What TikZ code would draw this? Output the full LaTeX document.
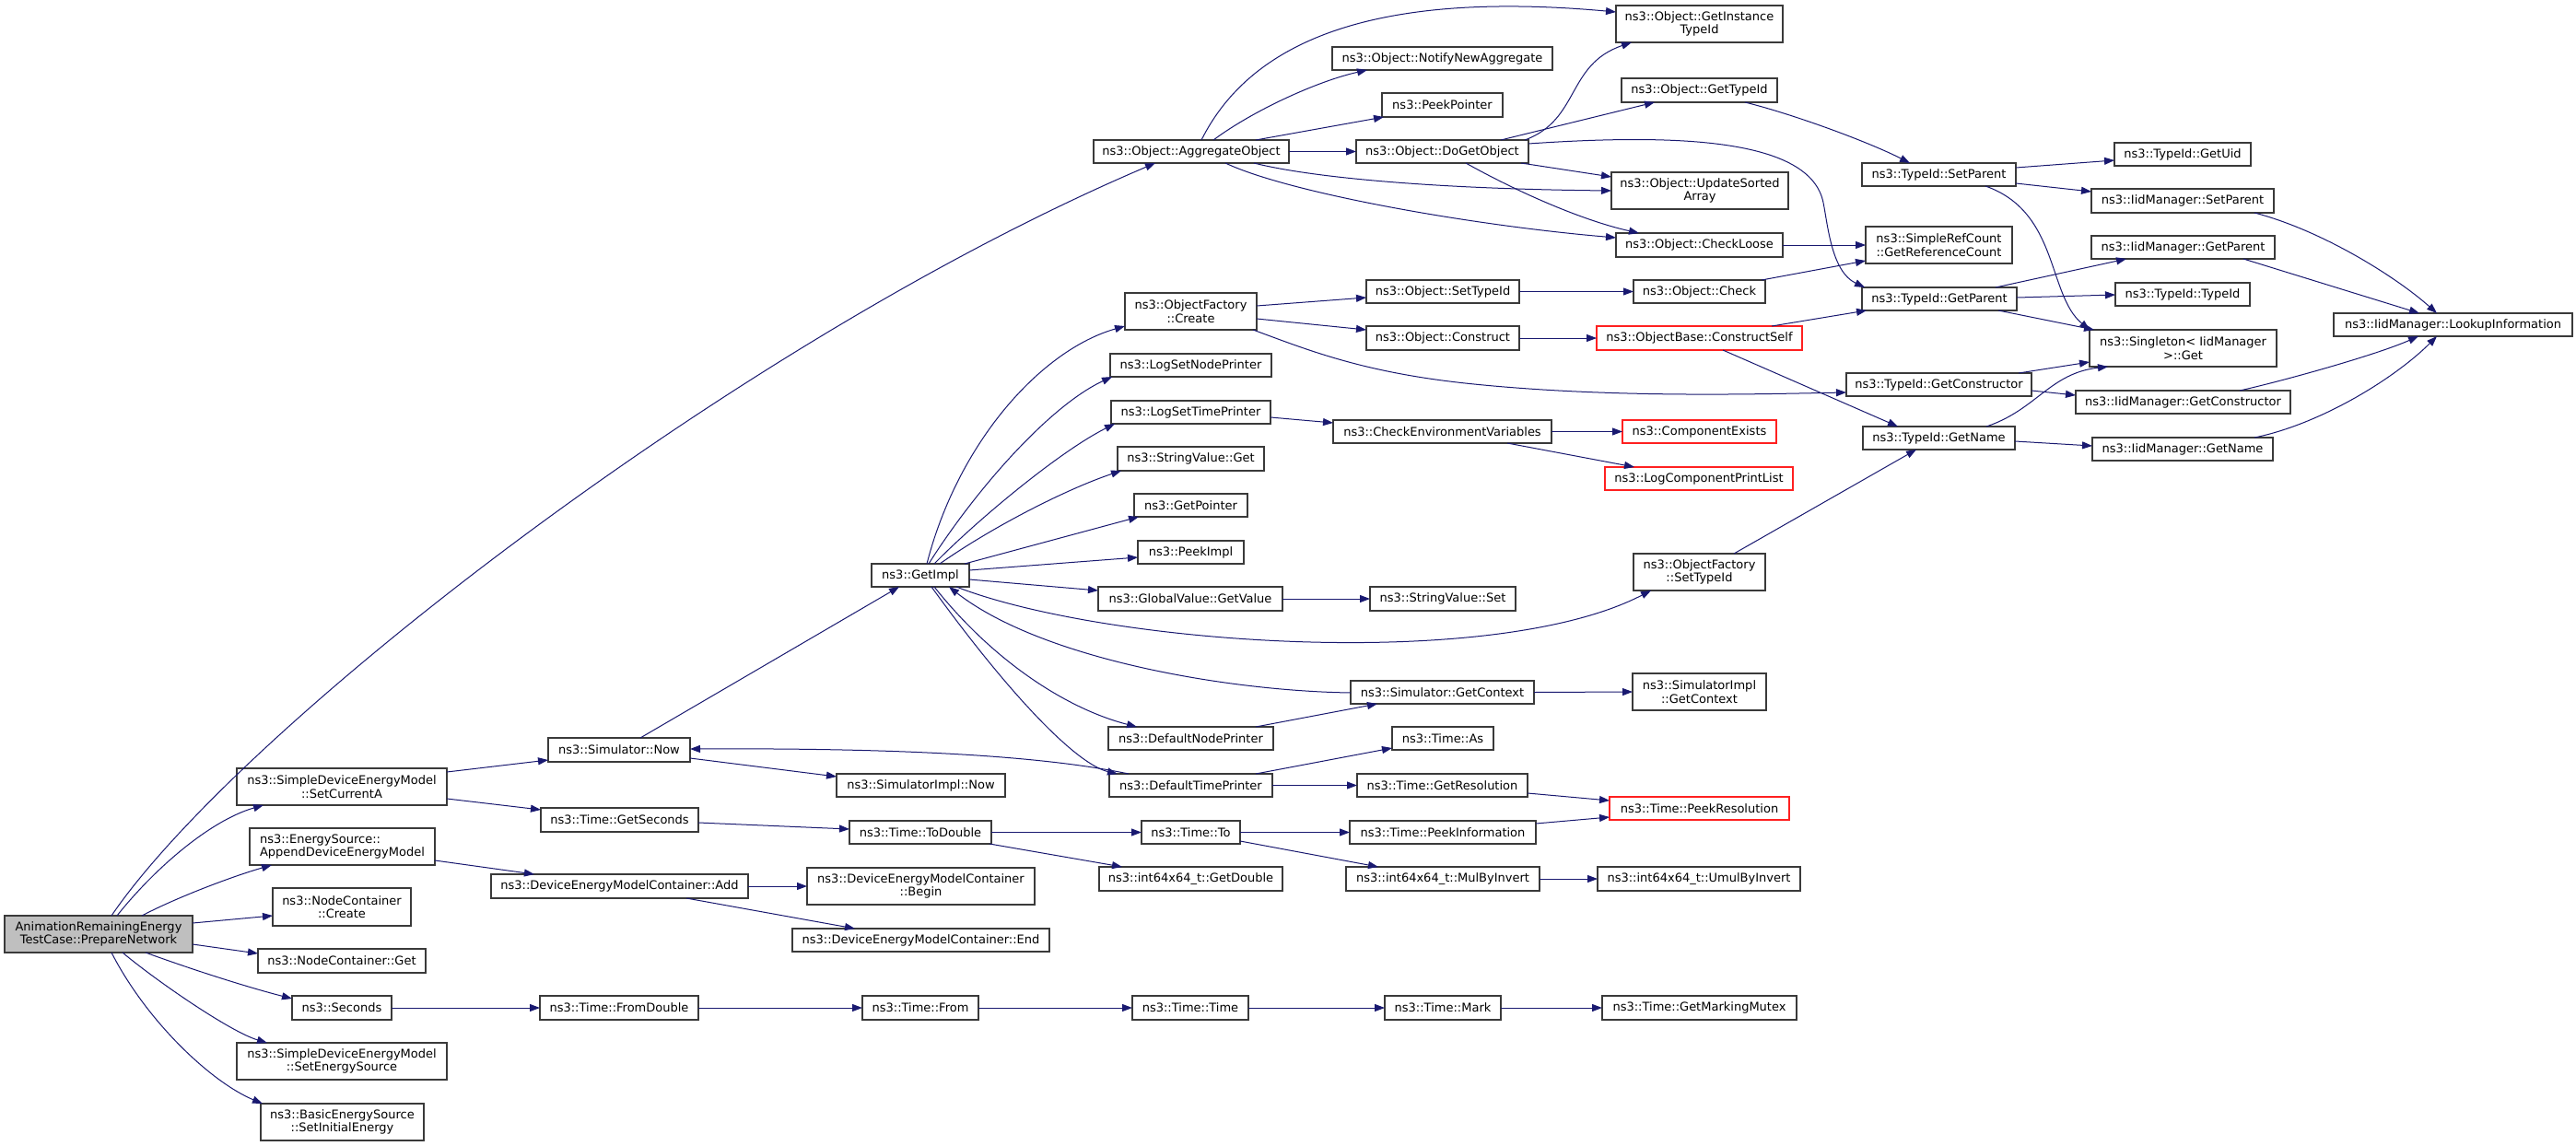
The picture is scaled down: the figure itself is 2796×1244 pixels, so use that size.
\documentclass[tikz,border=0pt]{standalone}
\usepackage{fontspec}
\setmainfont{DejaVu Sans}
\usetikzlibrary{arrows.meta}
\definecolor{edgecol}{HTML}{191970}
\definecolor{rootfill}{HTML}{BFBFBF}
\definecolor{boxline}{HTML}{3A3A3A}
\definecolor{trunc}{HTML}{FF2020}
\tikzset{
  box/.style={draw=boxline, line width=1.2pt, fill=white, inner sep=0pt, outer sep=0pt,
    align=center, font=\fontsize{13}{14.7}\selectfont},
  rootbox/.style={fill=rootfill},
  redbox/.style={draw=trunc},
  edge/.style={draw=edgecol, line width=1pt, -{Triangle[length=11pt,width=8pt]}, fill=none}
}
\newcommand\mybox[7][]{\node[box,#1,minimum width={#5-#3},minimum height={#6-#4}] (#2) at ({(#3+#5)/2},{(#4+#6)/2}) {#7};}
\begin{document}
\begin{tikzpicture}[x=1pt,y=-1pt]
\fill[white] (0,0) rectangle (2796,1244);
\useasboundingbox (0,0) rectangle (2796,1244);
% ---------- nodes ----------
\mybox[rootbox]{root}{5}{994}{209}{1034}{AnimationRemainingEnergy\\TestCase::PrepareNetwork}
\mybox{setcur}{257}{834}{485}{874}{ns3::SimpleDeviceEnergyModel\\::SetCurrentA}
\mybox[align=left]{append}{271}{899}{472}{939}{ns3::EnergySource::\\AppendDeviceEnergyModel}
\mybox{nccreate}{296}{964}{446}{1005}{ns3::NodeContainer\\::Create}
\mybox{ncget}{280}{1030}{462}{1056}{ns3::NodeContainer::Get}
\mybox{seconds}{317}{1081}{425}{1107}{ns3::Seconds}
\mybox{setes}{257}{1132}{485}{1172}{ns3::SimpleDeviceEnergyModel\\::SetEnergySource}
\mybox{setie}{283}{1198}{460}{1238}{ns3::BasicEnergySource\\::SetInitialEnergy}
\mybox{simnow}{595}{801}{749}{827}{ns3::Simulator::Now}
\mybox{getsec}{587}{877}{758}{903}{ns3::Time::GetSeconds}
\mybox{demcadd}{533}{949}{812}{975}{ns3::DeviceEnergyModelContainer::Add}
\mybox{fromdouble}{586}{1081}{758}{1107}{ns3::Time::FromDouble}
\mybox{aggobj}{1187}{152}{1399}{177}{ns3::Object::AggregateObject}
\mybox{getimpl}{946}{612}{1052}{637}{ns3::GetImpl}
\mybox{simimplnow}{908}{840}{1091}{865}{ns3::SimulatorImpl::Now}
\mybox{todouble}{922}{891}{1076}{916}{ns3::Time::ToDouble}
\mybox{demcbegin}{876}{942}{1123}{982}{ns3::DeviceEnergyModelContainer\\::Begin}
\mybox{demcend}{860}{1008}{1139}{1033}{ns3::DeviceEnergyModelContainer::End}
\mybox{timefrom}{936}{1081}{1062}{1107}{ns3::Time::From}
\mybox{ofcreate}{1221}{318}{1364}{358}{ns3::ObjectFactory\\::Create}
\mybox{lsnp}{1205}{384}{1380}{409}{ns3::LogSetNodePrinter}
\mybox{lstp}{1206}{435}{1379}{460}{ns3::LogSetTimePrinter}
\mybox{svget}{1213}{485}{1372}{511}{ns3::StringValue::Get}
\mybox{getptr}{1231}{536}{1354}{561}{ns3::GetPointer}
\mybox{peekimpl}{1235}{587}{1350}{612}{ns3::PeekImpl}
\mybox{gvgetvalue}{1192}{637}{1392}{663}{ns3::GlobalValue::GetValue}
\mybox{dnp}{1203}{789}{1382}{814}{ns3::DefaultNodePrinter}
\mybox{dtp}{1204}{840}{1381}{865}{ns3::DefaultTimePrinter}
\mybox{timeto}{1239}{891}{1346}{916}{ns3::Time::To}
\mybox{getdouble}{1193}{941}{1392}{967}{ns3::int64x64\_t::GetDouble}
\mybox{timetime}{1229}{1081}{1355}{1107}{ns3::Time::Time}
\mybox{notify}{1446}{51}{1685}{76}{ns3::Object::NotifyNewAggregate}
\mybox{peekptr}{1500}{101}{1631}{127}{ns3::PeekPointer}
\mybox{dogetobj}{1472}{152}{1659}{177}{ns3::Object::DoGetObject}
\mybox{objsettid}{1483}{304}{1649}{329}{ns3::Object::SetTypeId}
\mybox{objconstruct}{1483}{354}{1649}{380}{ns3::Object::Construct}
\mybox{checkenv}{1447}{456}{1684}{481}{ns3::CheckEnvironmentVariables}
\mybox{svset}{1487}{637}{1645}{663}{ns3::StringValue::Set}
\mybox{simgetctx}{1466}{739}{1665}{764}{ns3::Simulator::GetContext}
\mybox{timeas}{1511}{789}{1621}{814}{ns3::Time::As}
\mybox{getres}{1473}{840}{1658}{865}{ns3::Time::GetResolution}
\mybox{peekinfo}{1465}{891}{1667}{916}{ns3::Time::PeekInformation}
\mybox{mulbyinv}{1461}{941}{1671}{967}{ns3::int64x64\_t::MulByInvert}
\mybox{timemark}{1503}{1081}{1629}{1107}{ns3::Time::Mark}
\mybox{getinst}{1754}{6}{1935}{46}{ns3::Object::GetInstance\\TypeId}
\mybox{gettypeid}{1760}{85}{1929}{111}{ns3::Object::GetTypeId}
\mybox{updsorted}{1749}{187}{1941}{227}{ns3::Object::UpdateSorted\\Array}
\mybox{checkloose}{1754}{253}{1935}{279}{ns3::Object::CheckLoose}
\mybox{objcheck}{1773}{304}{1916}{329}{ns3::Object::Check}
\mybox[redbox]{constructself}{1733}{354}{1956}{380}{ns3::ObjectBase::ConstructSelf}
\mybox[redbox]{compexists}{1761}{456}{1928}{481}{ns3::ComponentExists}
\mybox[redbox]{logcpl}{1742}{507}{1946}{532}{ns3::LogComponentPrintList}
\mybox{ofsettid}{1773}{601}{1916}{641}{ns3::ObjectFactory\\::SetTypeId}
\mybox{simimplgetctx}{1772}{731}{1917}{771}{ns3::SimulatorImpl\\::GetContext}
\mybox[redbox]{peekres}{1747}{865}{1942}{890}{ns3::Time::PeekResolution}
\mybox{umulbyinv}{1734}{941}{1954}{967}{ns3::int64x64\_t::UmulByInvert}
\mybox{markmutex}{1739}{1081}{1950}{1107}{ns3::Time::GetMarkingMutex}
\mybox{setparent}{2021}{177}{2188}{202}{ns3::TypeId::SetParent}
\mybox{refcount}{2025}{246}{2184}{286}{ns3::SimpleRefCount\\::GetReferenceCount}
\mybox{getparent}{2021}{312}{2189}{337}{ns3::TypeId::GetParent}
\mybox{getctor}{2004}{405}{2205}{430}{ns3::TypeId::GetConstructor}
\mybox{getname}{2022}{463}{2187}{488}{ns3::TypeId::GetName}
\mybox{getuid}{2295}{155}{2443}{180}{ns3::TypeId::GetUid}
\mybox{iidsetparent}{2270}{205}{2468}{231}{ns3::IidManager::SetParent}
\mybox{iidgetparent}{2270}{256}{2469}{281}{ns3::IidManager::GetParent}
\mybox{typeidtypeid}{2296}{307}{2442}{332}{ns3::TypeId::TypeId}
\mybox{singleton}{2268}{358}{2471}{398}{ns3::Singleton< IidManager\\>::Get}
\mybox{iidgetctor}{2253}{424}{2486}{449}{ns3::IidManager::GetConstructor}
\mybox{iidgetname}{2271}{475}{2467}{500}{ns3::IidManager::GetName}
\mybox{lookup}{2533}{340}{2792}{365}{ns3::IidManager::LookupInformation}
% ---------- edges ----------
% root
\draw[edge] (root.north -| 121,0) .. controls (260,790) and (800,370) .. (aggobj.south -| 1254,0);
\draw[edge] (root.north -| 127,0) .. controls (170,940) and (230,890) .. (setcur.south -| 286,0);
\draw[edge] (root.north -| 154,0) .. controls (190,975) and (250,952) .. (append.south -| 295,0);
\draw[edge] (root.east |- 0,1002) -- (nccreate.west |- 0,994);
\draw[edge] (root.east |- 0,1025) -- (ncget.west |- 0,1035);
\draw[edge] (root.south -| 158,0) .. controls (210,1053) and (270,1072) .. (seconds.west |- 0,1084);
\draw[edge] (root.south -| 133,0) .. controls (170,1065) and (250,1120) .. (setes.north -| 290,0);
\draw[edge] (root.south -| 121,0) .. controls (160,1110) and (230,1175) .. (setie.north -| 285,0);
% second column
\draw[edge] (setcur.east |- 0,838) -- (simnow.west |- 0,825);
\draw[edge] (setcur.east |- 0,867) -- (getsec.west |- 0,879);
\draw[edge] (append.east |- 0,934) -- (demcadd.north -| 580,0);
\draw[edge] (seconds.east) -- (fromdouble.west);
\draw[edge] (simnow.north -| 695,0) -- (getimpl.south -| 976,0);
\draw[edge] (simnow.east |- 0,823) -- (simimplnow.west |- 0,843);
\draw[edge] (dtp.north -| 1225,0) .. controls (1120,818) and (950,812) .. (simnow.east |- 0,813);
\draw[edge] (getsec.east |- 0,893) -- (todouble.west |- 0,900);
\draw[edge] (demcadd.east) -- (demcbegin.west);
\draw[edge] (demcadd.south -| 745,0) -- (demcend.north -| 928,0);
\draw[edge] (fromdouble.east) -- (timefrom.west);
\draw[edge] (timefrom.east) -- (timetime.west);
\draw[edge] (timetime.east) -- (timemark.west);
\draw[edge] (timemark.east) -- (markmutex.west);
\draw[edge] (todouble.east) -- (timeto.west);
\draw[edge] (todouble.south -| 1074,0) -- (getdouble.north -| 1218,0);
\draw[edge] (timeto.east) -- (peekinfo.west);
\draw[edge] (timeto.east |- 0,913) -- (mulbyinv.north -| 1496,0);
\draw[edge] (mulbyinv.east) -- (umulbyinv.west);
\draw[edge] (peekinfo.east |- 0,894) -- (peekres.west |- 0,887);
\draw[edge] (getres.east |- 0,861) -- (peekres.west |- 0,869);
\draw[edge] (dtp.east) -- (getres.west);
\draw[edge] (dtp.north -| 1363,0) -- (timeas.west |- 0,812);
\draw[edge] (dnp.north -| 1363,0) -- (simgetctx.south -| 1495,0);
\draw[edge] (simgetctx.east) -- (simimplgetctx.west);
\draw[edge] (simgetctx.west |- 0,752) .. controls (1330,750) and (1130,715) .. (getimpl.south -| 1030,0);
% GetImpl fan
\draw[edge] (getimpl.south -| 1038,0) .. controls (1200,700) and (1620,730) .. (ofsettid.south -| 1792,0);
\draw[edge] (getimpl.south -| 1014,0) .. controls (1080,720) and (1160,770) .. (dnp.north -| 1234,0);
\draw[edge] (getimpl.south -| 1011,0) .. controls (1100,760) and (1170,830) .. (dtp.north -| 1213,0);
\draw[edge] (getimpl.north -| 1006,0) .. controls (1040,480) and (1130,380) .. (ofcreate.west |- 0,354);
\draw[edge] (getimpl.north -| 1008,0) .. controls (1060,530) and (1140,440) .. (lsnp.south -| 1207,0);
\draw[edge] (getimpl.north -| 1014,0) .. controls (1060,565) and (1150,490) .. (lstp.south -| 1210,0);
\draw[edge] (getimpl.north -| 1020,0) .. controls (1080,570) and (1160,530) .. (svget.south -| 1217,0);
\draw[edge] (getimpl.north -| 1047,0) -- (getptr.south -| 1236,0);
\draw[edge] (getimpl.east |- 0,619) -- (peekimpl.west |- 0,605);
\draw[edge] (getimpl.east |- 0,629) -- (gvgetvalue.west |- 0,641);
\draw[edge] (gvgetvalue.east) -- (svset.west);
% ObjectFactory::Create
\draw[edge] (ofcreate.east |- 0,332) -- (objsettid.west |- 0,323);
\draw[edge] (ofcreate.east |- 0,346) -- (objconstruct.west |- 0,358);
\draw[edge] (ofcreate.south -| 1360,0) .. controls (1420,380) and (1480,405) .. (1600,417) .. controls (1750,432) and (1900,428) .. (getctor.west |- 0,426);
\draw[edge] (lstp.east |- 0,453) -- (checkenv.west |- 0,459);
\draw[edge] (checkenv.east) -- (compexists.west);
\draw[edge] (checkenv.south -| 1636,0) -- (logcpl.north -| 1774,0);
\draw[edge] (ofsettid.north -| 1882,0) -- (getname.south -| 2080,0);
% AggregateObject
\draw[edge] (aggobj.north -| 1304,0) .. controls (1360,40) and (1500,-10) .. (getinst.west |- 0,13);
\draw[edge] (aggobj.north -| 1317,0) .. controls (1360,120) and (1430,88) .. (notify.south -| 1484,0);
\draw[edge] (aggobj.north -| 1363,0) -- (peekptr.south -| 1502,0);
\draw[edge] (aggobj.east) -- (dogetobj.west);
\draw[edge] (aggobj.south -| 1361,0) .. controls (1420,192) and (1550,205) .. (updsorted.west |- 0,207);
\draw[edge] (aggobj.south -| 1330,0) .. controls (1400,210) and (1600,245) .. (checkloose.west |- 0,258);
% DoGetObject
\draw[edge] (dogetobj.north -| 1655,0) .. controls (1715,130) and (1700,70) .. (getinst.south -| 1771,0);
\draw[edge] (dogetobj.north -| 1629,0) -- (gettypeid.south -| 1796,0);
\draw[edge] (dogetobj.east |- 0,156) .. controls (1820,145) and (1965,150) .. (1979,220) .. controls (1984,245) and (1988,295) .. (getparent.north -| 2024,0);
\draw[edge] (dogetobj.south -| 1651,0) -- (updsorted.west |- 0,192);
\draw[edge] (dogetobj.south -| 1591,0) .. controls (1650,210) and (1720,240) .. (checkloose.north -| 1779,0);
\draw[edge] (gettypeid.south -| 1894,0) .. controls (1950,125) and (2030,155) .. (setparent.north -| 2073,0);
\draw[edge] (checkloose.east) -- (refcount.west);
\draw[edge] (objcheck.north -| 1912,0) -- (refcount.west |- 0,283);
\draw[edge] (objsettid.east) -- (objcheck.west);
\draw[edge] (objconstruct.east) -- (constructself.west);
\draw[edge] (constructself.north -| 1923,0) -- (getparent.south -| 2026,0);
\draw[edge] (constructself.south -| 1870,0) -- (getname.north -| 2060,0);
% TypeId
\draw[edge] (setparent.east |- 0,182) -- (getuid.west |- 0,174);
\draw[edge] (setparent.east |- 0,199) -- (iidsetparent.west |- 0,208);
\draw[edge] (setparent.south -| 2155,0) .. controls (2235,230) and (2222,320) .. (singleton.north -| 2268,0);
\draw[edge] (getparent.north -| 2166,0) -- (iidgetparent.south -| 2308,0);
\draw[edge] (getparent.east |- 0,323) -- (typeidtypeid.west |- 0,320);
\draw[edge] (getparent.south -| 2169,0) -- (singleton.north -| 2273,0);
\draw[edge] (getctor.north -| 2191,0) -- (singleton.west |- 0,393);
\draw[edge] (getctor.east |- 0,424) -- (iidgetctor.west |- 0,429);
\draw[edge] (getname.north -| 2156,0) .. controls (2210,445) and (2225,405) .. (singleton.south -| 2288,0);
\draw[edge] (getname.east |- 0,479) -- (iidgetname.west |- 0,484);
% IidManager
\draw[edge] (iidsetparent.south -| 2447,0) .. controls (2520,250) and (2600,300) .. (lookup.north -| 2645,0);
\draw[edge] (iidgetparent.south -| 2435,0) -- (lookup.north -| 2626,0);
\draw[edge] (iidgetctor.north -| 2431,0) .. controls (2480,413) and (2580,385) .. (lookup.south -| 2625,0);
\draw[edge] (iidgetname.north -| 2447,0) .. controls (2520,460) and (2600,410) .. (lookup.south -| 2645,0);
\end{tikzpicture}
\end{document}
